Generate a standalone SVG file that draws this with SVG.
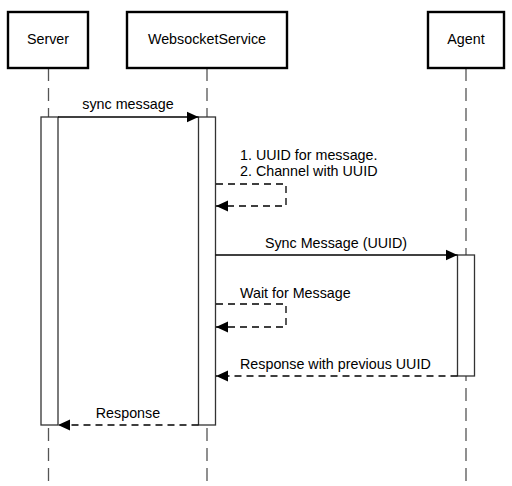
<svg xmlns="http://www.w3.org/2000/svg" width="512" height="486" viewBox="0 0 512 486">
<style>
  .box { fill: #fff; stroke: #000; stroke-width: 2.4; }
  .life { stroke: #555; stroke-width: 1.3; stroke-dasharray: 13 7; fill: none; }
  .act { fill: #fff; stroke: #333; stroke-width: 1.3; }
  .msg { stroke: #000; stroke-width: 1.3; fill: none; }
  .dash { stroke-dasharray: 7 5; }
  text { font-family: "Liberation Sans", Arial, sans-serif; font-size: 14.3px; fill: #000; }
  .c { text-anchor: middle; }
</style>
<defs>
  <marker id="arr" viewBox="0 0 12 12" refX="12" refY="6" markerWidth="12" markerHeight="12" markerUnits="userSpaceOnUse" orient="auto">
    <path d="M0,0.5 L12,6 L0,11.5 Z" fill="#000"/>
  </marker>
</defs>
<rect width="512" height="486" fill="#fff"/>
<g id="lifelines">
  <line class="life" x1="48.5" y1="68" x2="48.5" y2="486"/>
  <line class="life" x1="207" y1="68" x2="207" y2="486"/>
  <line class="life" x1="466" y1="68" x2="466" y2="486"/>
</g>
<g id="server">
  <rect class="box" x="8" y="12" width="80" height="56"/>
  <text class="c" x="48" y="44">Server</text>
  <rect class="act" x="41" y="117" width="17" height="308"/>
</g>
<g id="websocketservice">
  <rect class="box" x="127" y="12" width="160" height="56"/>
  <text class="c" x="207" y="44">WebsocketService</text>
  <rect class="act" x="198.5" y="117" width="17" height="308"/>
</g>
<g id="agent">
  <rect class="box" x="428" y="12" width="76" height="56"/>
  <text class="c" x="466" y="44">Agent</text>
  <rect class="act" x="457.5" y="255" width="17" height="121"/>
</g>
<g id="connectors">
  <line class="msg" x1="58" y1="117" x2="198.5" y2="117" marker-end="url(#arr)"/>
  <text class="c" x="128" y="109">sync message</text>
  <polyline class="msg dash" points="216,184 286,184 286,206 216,206" marker-end="url(#arr)"/>
  <text x="240" y="160">1. UUID for message.</text>
  <text x="240" y="176">2. Channel with UUID</text>
  <line class="msg" x1="215.5" y1="255" x2="457.5" y2="255" marker-end="url(#arr)"/>
  <text class="c" x="336" y="248">Sync Message (UUID)</text>
  <polyline class="msg dash" points="216,304 286,304 286,327 216,327" marker-end="url(#arr)"/>
  <text x="240" y="298">Wait for Message</text>
  <line class="msg dash" x1="457.5" y1="376" x2="216" y2="376" marker-end="url(#arr)"/>
  <text x="240" y="369">Response with previous UUID</text>
  <line class="msg dash" x1="198.5" y1="425" x2="58" y2="425" marker-end="url(#arr)"/>
  <text class="c" x="128" y="418">Response</text>
</g>
</svg>
